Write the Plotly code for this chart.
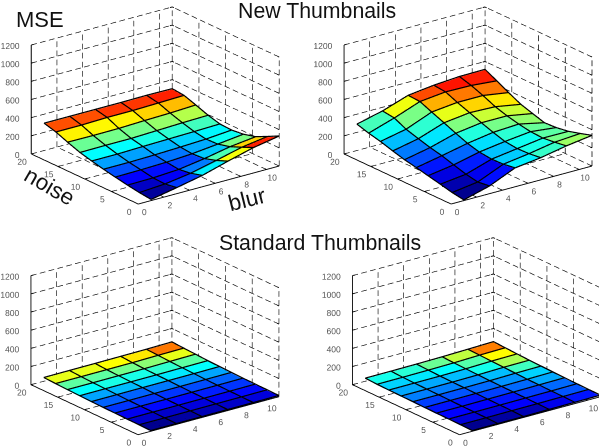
import math
import plotly.graph_objects as go

blur = [1, 3, 5, 7, 9, 11]
noise = [0, 2.2, 4.4, 6.7, 8.9, 11.1, 13.3, 15.6, 17.8, 20]
blur_ticks = [0, 2, 4, 6, 8, 10]
noise_ticks = [0, 5, 10, 15, 20]
mse_ticks = [0, 200, 400, 600, 800, 1000, 1200]

# rows = noise, columns = blur
new_a = [
    [5, 59, 117, 198, 272, 323],
    [20, 38, 80, 145, 215, 257],
    [41, 45, 62, 105, 160, 194],
    [66, 70, 78, 95, 125, 158],
    [92, 92, 98, 108, 120, 143],
    [122, 122, 130, 136, 142, 150],
    [155, 158, 158, 168, 178, 185],
    [205, 203, 205, 215, 222, 235],
    [257, 257, 265, 265, 272, 280],
    [293, 293, 293, 293, 296, 293],
]
new_b = [
    [0, 77, 200, 236, 290, 330],
    [20, 60, 180, 220, 270, 290],
    [51, 85, 175, 215, 255, 253],
    [81, 125, 190, 230, 262, 231],
    [110, 165, 225, 270, 285, 224],
    [136, 194, 275, 315, 315, 264],
    [172, 231, 330, 365, 355, 305],
    [213, 272, 385, 415, 415, 371],
    [244, 335, 440, 470, 465, 440],
    [283, 352, 448, 483, 503, 506],
]
std_a = [
    [0, 1, 2, 3, 4, 6],
    [3, 3, 4, 5, 6, 8],
    [5, 6, 6, 7, 8, 10],
    [8, 8, 8, 9, 10, 12],
    [10, 10, 11, 12, 13, 15],
    [13, 14, 15, 16, 17, 19],
    [17, 18, 18, 19, 21, 23],
    [21, 21, 22, 23, 27, 31],
    [27, 27, 28, 29, 34, 37],
    [33, 35, 36, 38, 40, 45],
]
std_b = [
    [0, 1, 2, 5, 7, 10],
    [4, 4, 6, 7, 10, 12],
    [6, 6, 7, 9, 11, 14],
    [7, 7, 9, 11, 14, 17],
    [9, 10, 11, 13, 16, 20],
    [12, 12, 13, 15, 21, 24],
    [14, 14, 15, 19, 26, 28],
    [16, 17, 18, 22, 30, 34],
    [19, 20, 23, 27, 36, 41],
    [26, 27, 29, 33, 40, 48],
]

JET = [[0, "#00008f"], [0.125, "#0000ff"], [0.375, "#00ffff"],
       [0.625, "#ffff00"], [0.875, "#ff0000"], [1, "#800000"]]

W, H = 599, 448
ALPHA = math.radians(232.8)
PHI = math.radians(20.8)
DIST = 2.5
SCALE = 1.58
ASPECT_Z = 0.659
PAD = 0.12   # extra axis range so that the tick labels are not clipped
E = (math.cos(PHI) * math.cos(ALPHA), math.cos(PHI) * math.sin(ALPHA), math.sin(PHI))
R = (-math.sin(ALPHA), math.cos(ALPHA), 0)
U = (-math.sin(PHI) * math.cos(ALPHA), -math.sin(PHI) * math.sin(ALPHA), math.cos(PHI))
PX_PER_WORLD = 112.0
PX_X, PX_Y, PX_Z = 177.0 / 11, 177.0 / 20, 109.0 / 1200
DASH_PX, GAP_PX = 6.0, 3.5

fig = go.Figure()


def segs(pairs):
    xs, ys, zs = [], [], []
    for a, b in pairs:
        xs += [a[0], b[0], None]
        ys += [a[1], b[1], None]
        zs += [a[2], b[2], None]
    return xs, ys, zs


def dashed(a, b):
    """Break a grid line into short solid pieces, sized in screen pixels."""
    d = [(b[i] - a[i]) for i in range(3)]
    w = (d[0] * PX_X, d[1] * PX_Y)
    sx = w[0] * R[0] + w[1] * R[1]
    sy = w[0] * U[0] + w[1] * U[1] + d[2] * PX_Z
    length = math.hypot(sx, sy)
    n = max(1, round((length + GAP_PX) / (DASH_PX + GAP_PX)))
    period = 1.0 / n
    frac = period * DASH_PX / (DASH_PX + GAP_PX)
    out = []
    for i in range(n):
        t0, t1 = i * period, i * period + frac
        out.append((tuple(a[j] + d[j] * t0 for j in range(3)), tuple(a[j] + d[j] * t1 for j in range(3))))
    return out


def add_line(scene, pairs, width, color="#000000"):
    xs, ys, zs = segs(pairs)
    fig.add_trace(go.Scatter3d(x=xs, y=ys, z=zs, mode="lines", scene=scene, hoverinfo="skip",
                               showlegend=False, line=dict(color=color, width=width)))


def add_text(scene, pts, labels, pos):
    fig.add_trace(go.Scatter3d(x=[p[0] for p in pts], y=[p[1] for p in pts], z=[p[2] for p in pts],
                               mode="text", text=labels, textposition=pos, scene=scene, hoverinfo="skip",
                               showlegend=False,
                               textfont=dict(family="Liberation Sans", size=8.5, color="#555555")))


def panel(scene, zvals, cmax, xdom, ydom, target):
    nr, nc = len(noise), len(blur)
    xs, ys, zs, ii, jj, kk, cell = [], [], [], [], [], [], []
    for r in range(nr):
        for c in range(nc):
            xs.append(blur[c]); ys.append(noise[r]); zs.append(zvals[r][c])
    for r in range(nr - 1):
        for c in range(nc - 1):
            a = r * nc + c
            ii += [a, a]; jj += [a + 1, a + nc + 1]; kk += [a + nc + 1, a + nc]
            cell += [zvals[r][c], zvals[r][c]]
    fig.add_trace(go.Mesh3d(x=xs, y=ys, z=zs, i=ii, j=jj, k=kk, intensity=cell, intensitymode="cell",
                            colorscale=JET, cmin=0, cmax=cmax, showscale=False, flatshading=True,
                            hoverinfo="skip", scene=scene,
                            lighting=dict(ambient=1, diffuse=0, specular=0, roughness=1, fresnel=0)))
    lift = 8
    wire = []
    for r in range(nr):
        wire += [((blur[c], noise[r], zvals[r][c] + lift), (blur[c + 1], noise[r], zvals[r][c + 1] + lift))
                 for c in range(nc - 1)]
    for c in range(nc):
        wire += [((blur[c], noise[r], zvals[r][c] + lift), (blur[c], noise[r + 1], zvals[r + 1][c] + lift))
                 for r in range(nr - 1)]
    add_line(scene, wire, 2.4)

    x0, x1, y0, y1, z0, z1 = 0, 11, 0, 20, 0, 1200
    grid = []
    for b in blur_ticks + [x1]:
        grid += dashed((b, y1, z0), (b, y1, z1))
        if b > x0:
            grid += dashed((b, y0, z0), (b, y1, z0))
    for n in noise_ticks:
        if n < y1:
            grid += dashed((x1, n, z0), (x1, n, z1))
        if n > y0:
            grid += dashed((x0, n, z0), (x1, n, z0))
    for m in mse_ticks:
        grid += dashed((x0, y1, m), (x1, y1, m))
        grid += dashed((x1, y0, m), (x1, y1, m))
    add_line(scene, grid, 1.3)
    axes = [((x0, y0, z0), (x1, y0, z0)), ((x0, y0, z0), (x0, y1, z0)), ((x0, y1, z0), (x0, y1, z1))]
    axes += [((x0, y1, m), (0.18, y1, m)) for m in mse_ticks]
    axes += [((b, y0, z0), (b, 0.3, z0)) for b in blur_ticks]
    axes += [((x0, n, z0), (0.18, n, z0)) for n in noise_ticks]
    axes += [((x1 - 0.18, y1, m), (x1, y1, m)) for m in mse_ticks]
    axes += [((x1, y1 - 0.3, m), (x1, y1, m)) for m in mse_ticks]
    axes += [((x1, y0, m), (x1, 0.3, m)) for m in mse_ticks]
    add_line(scene, axes, 1.8)

    add_text(scene, [(b, -1.1, -58) for b in blur_ticks], [str(b) for b in blur_ticks], "middle center")
    add_text(scene, [(-0.72, n, -58) for n in noise_ticks], [str(n) for n in noise_ticks], "middle center")
    add_text(scene, [(-0.28, y1, m) for m in mse_ticks], [str(m) for m in mse_ticks], "middle left")

    cx = (xdom[0] + xdom[1]) / 2 * W
    cy = (1 - (ydom[0] + ydom[1]) / 2) * H
    dx = (target[0] - cx) / PX_PER_WORLD
    dy = (cy - target[1]) / PX_PER_WORLD
    shift = [-(dx * R[i] + dy * U[i]) for i in range(3)]
    center = dict(x=shift[0], y=shift[1], z=shift[2])
    eye = dict(x=shift[0] + DIST * E[0], y=shift[1] + DIST * E[1], z=shift[2] + DIST * E[2])
    ax = dict(visible=False)
    px, py = (x1 - x0) * PAD, (y1 - y0) * PAD
    fz = 100
    fig.update_layout(**{scene: dict(
        domain=dict(x=xdom, y=ydom),
        xaxis=dict(ax, range=[x0 - px, x1 + px]), yaxis=dict(ax, range=[y0 - py, y1 + py]),
        zaxis=dict(ax, range=[z0 - fz, z1 + fz]),
        aspectmode="manual",
        aspectratio=dict(x=SCALE * (1 + 2 * PAD), y=SCALE * (1 + 2 * PAD),
                         z=SCALE * ASPECT_Z * (1 + 2 * fz / (z1 - z0))),
        camera=dict(projection=dict(type="orthographic"), center=center, eye=eye, up=dict(x=0, y=0, z=1)),
        bgcolor="rgba(0,0,0,0)",
    )})


panel("scene", new_a, 323, [0, 0.5], [0.5, 1], (155, 105.5))
panel("scene2", new_b, 550, [0.5, 1], [0.5, 1], (467.3, 105.5))
panel("scene3", std_a, 45, [0, 0.5], [0, 0.5], (154.7, 336.2))
panel("scene4", std_b, 48, [0.5, 1], [0, 0.5], (475.7, 336.2))


def note(text, x, y, size, angle=0):
    fig.add_annotation(text=text, x=x, y=y, xref="paper", yref="paper", showarrow=False, textangle=angle,
                       xanchor="center", yanchor="middle",
                       font=dict(family="Liberation Sans", size=size, color="#111111"))


note("New Thumbnails", 317 / W, 1 - 11 / H, 21.3)
note("Standard Thumbnails", 320 / W, 1 - 243 / H, 21.3)
note("MSE", 39.5 / W, 1 - 20 / H, 22)
note("noise", 50 / W, 1 - 186 / H, 22.5, 30)
note("blur", 247 / W, 1 - 199 / H, 22.5, -14)

fig.update_layout(width=W, height=H, margin=dict(l=0, r=0, t=0, b=0), paper_bgcolor="white",
                  showlegend=False)
fig.write_html("out.html", config=dict(displayModeBar=False),
               post_script="document.body.style.margin='0';")
